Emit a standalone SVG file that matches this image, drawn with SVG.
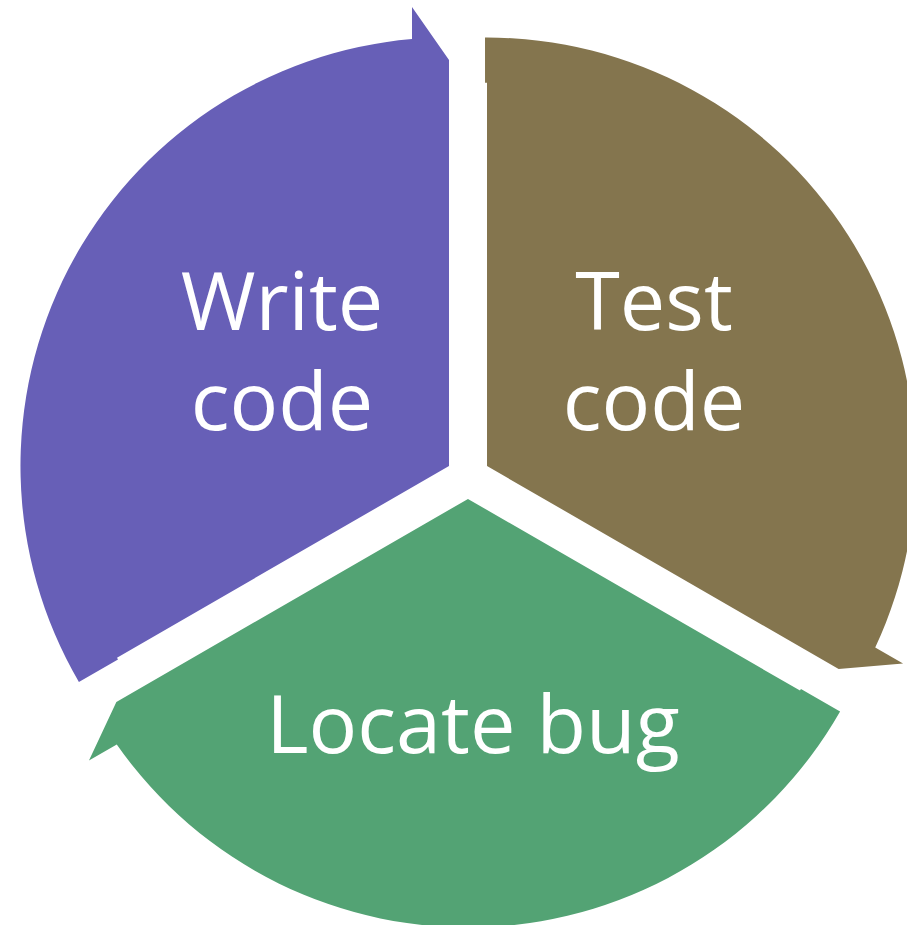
<svg xmlns="http://www.w3.org/2000/svg" width="907" height="925" viewBox="0 0 907 925">
<defs>
<style>
.lbl{font-family:"Open Sans","Noto Sans","Liberation Sans",sans-serif;font-size:81px;fill:#ffffff;text-anchor:middle}
</style>
<path id="seg" d="M449,466 L449,60 L412,7 L412,39.1 A428.5,428.5 0 0 0 78.9,682 L118,659.4 L117,657.7 Z"/>
</defs>
<rect width="907" height="925" fill="#ffffff"/>
<g id="write-code">
<use href="#seg" fill="#675fb7"/>
<text class="lbl" x="282" y="330">Write</text>
<text class="lbl" x="282" y="430">code</text>
</g>
<g id="test-code">
<use href="#seg" fill="#84754e" transform="rotate(120 468 477)"/>
<text class="lbl" x="654" y="330">Test</text>
<text class="lbl" x="654" y="430">code</text>
</g>
<g id="locate-bug">
<use href="#seg" fill="#53a374" transform="rotate(240 468 477)"/>
<text class="lbl" x="473" y="753">Locate bug</text>
</g>
</svg>
